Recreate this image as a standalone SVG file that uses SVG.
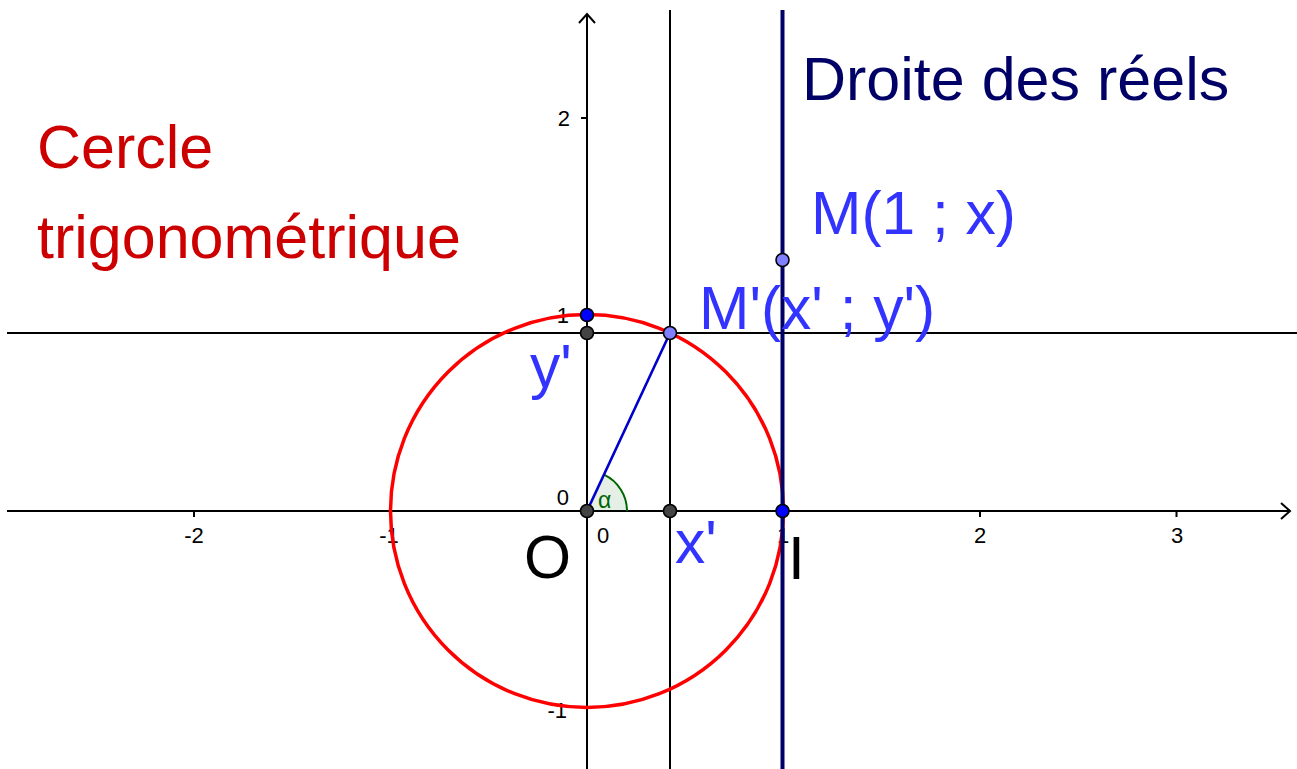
<svg xmlns="http://www.w3.org/2000/svg" width="1297" height="769" viewBox="0 0 1297 769">
<style>
.ax{stroke:#000;stroke-width:2;fill:none}
.tk{stroke:#000;stroke-width:2}
.tl{font-family:"Liberation Sans",Arial,sans-serif;font-size:22px;fill:#000}
.big{font-family:"Liberation Sans",Arial,sans-serif;font-size:60.5px}
.title{font-family:"Liberation Sans",Arial,sans-serif;font-size:61px}
.blue{fill:#3333ff}
.pt{stroke:#000;stroke-width:1.6}
</style>
<rect width="1297" height="769" fill="#fff"/>
<g id="axes">
<line class="ax" x1="7" y1="511" x2="1290" y2="511"/>
<polyline class="ax" points="1281,503 1290,511 1281,519"/>
<line class="ax" x1="587" y1="769" x2="587" y2="14"/>
<polyline class="ax" points="579,23 587,14 595,23"/>
<line class="tk" x1="194" y1="511" x2="194" y2="517"/>
<line class="tk" x1="390.5" y1="511" x2="390.5" y2="517"/>
<line class="tk" x1="783" y1="511" x2="783" y2="517"/>
<line class="tk" x1="980" y1="511" x2="980" y2="517"/>
<line class="tk" x1="1176.5" y1="511" x2="1176.5" y2="517"/>
<line class="tk" x1="581" y1="118" x2="587" y2="118"/>
<line class="tk" x1="581" y1="314.5" x2="587" y2="314.5"/>
<line class="tk" x1="581" y1="707.5" x2="587" y2="707.5"/>
<text class="tl" x="194" y="543" text-anchor="middle">-2</text>
<text class="tl" x="389" y="543" text-anchor="middle">-1</text>
<text class="tl" x="603" y="543" text-anchor="middle">0</text>
<text class="tl" x="783" y="543" text-anchor="middle">1</text>
<text class="tl" x="980" y="543" text-anchor="middle">2</text>
<text class="tl" x="1177" y="543" text-anchor="middle">3</text>
<text class="tl" x="570" y="126" text-anchor="end">2</text>
<text class="tl" x="569" y="323" text-anchor="end">1</text>
<text class="tl" x="569" y="505" text-anchor="end">0</text>
<text class="tl" x="567" y="718" text-anchor="end">-1</text>
</g>
<g id="connectors">
<line class="ax" x1="7" y1="333" x2="1297" y2="333"/>
<line class="ax" x1="670" y1="10" x2="670" y2="769"/>
<circle cx="587" cy="511" r="196.5" fill="none" stroke="#ff0000" stroke-width="3.5"/>
<path d="M587,511 L627,511 A40,40 0 0 0 603.9,474.7 Z" fill="#006600" fill-opacity="0.1" stroke="none"/>
<path d="M627,511 A40,40 0 0 0 603.9,474.7" fill="none" stroke="#006600" stroke-width="2"/>
<line x1="587" y1="511" x2="670" y2="333" stroke="#0000cc" stroke-width="2.6"/>
<line x1="782.5" y1="10" x2="782.5" y2="769" stroke="#000066" stroke-width="4"/>
</g>
<g id="labels">
<text class="title" x="802" y="100" fill="#000066">Droite des réels</text>
<text class="title" x="37" y="168" fill="#cc0000">Cercle</text>
<text class="title" x="37" y="258" fill="#cc0000">trigonométrique</text>
<text class="big blue" x="811" y="234">M(1 ; x)</text>
<text class="big blue" x="699" y="329">M'(x' ; y')</text>
<text class="big blue" x="530" y="387">y'</text>
<text class="big blue" x="675" y="563">x'</text>
<text class="big" x="524" y="578" fill="#000">O</text>
<text class="big" x="788" y="579" fill="#000">I</text>
<text x="598" y="508" font-family="'Liberation Sans',Arial,sans-serif" font-size="23" fill="#006600">α</text>
</g>
<g id="point-O"><circle class="pt" cx="587" cy="511" r="6.5" fill="#444"/></g>
<g id="point-A"><circle class="pt" cx="587" cy="315" r="6.5" fill="#0000ff"/></g>
<g id="point-yp"><circle class="pt" cx="587" cy="333" r="6.5" fill="#444"/></g>
<g id="point-xp"><circle class="pt" cx="670" cy="511" r="6.5" fill="#444"/></g>
<g id="point-Mp"><circle class="pt" cx="670" cy="333" r="6.5" fill="#7f7fff"/></g>
<g id="point-I"><circle class="pt" cx="782.5" cy="511" r="6.5" fill="#0000ff"/></g>
<g id="point-M"><circle class="pt" cx="782.5" cy="260" r="6.5" fill="#7f7fff"/></g>
</svg>
